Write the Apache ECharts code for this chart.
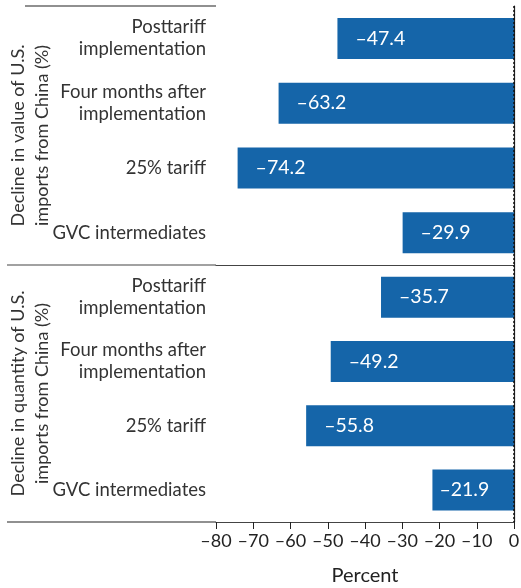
<!DOCTYPE html>
<html>
<head>
<meta charset="utf-8">
<script src="https://cdn.jsdelivr.net/npm/echarts@6/dist/echarts.min.js"></script>
<style>
  html, body { margin: 0; padding: 0; background: #fff; }
  #chart { width: 521px; height: 588px; }
</style>
</head>
<body>
<div id="chart"></div>
<script>
// categories, top to bottom
const categories = ['Posttariff\nimplementation', 'Four months after\nimplementation', '25% tariff', 'GVC intermediates']
const valueDecline = [-47.4, -63.2, -74.2, -29.9]
const quantityDecline = [-35.7, -49.2, -55.8, -21.9]
const xTicks = [-80, 0, 10] // min, max, step
const panelTitles = ['Decline in value of U.S.\nimports from China (%)', 'Decline in quantity of U.S.\nimports from China (%)']

const FONT = 'Lato'
const BLUE = '#1565a9'
const dash = v => String(v).replace('-', '\u2013')

const chart = echarts.init(document.getElementById('chart'))

function yAxis(idx, title) {
    return {
        type: 'category', gridIndex: idx, data: categories, inverse: true,
        axisLine: { lineStyle: { color: '#222', width: 1.2 } },
        axisTick: { length: 7, lineStyle: { color: '#222' } },
        axisLabel: { color: '#333', fontFamily: FONT, fontSize: 18.5, lineHeight: 22, margin: 10 },
        name: title, nameLocation: 'middle', nameRotate: 90, nameGap: 162, nameMoveOverlap: false,
        nameTextStyle: { color: '#333', fontFamily: FONT, fontSize: 18, lineHeight: 24, align: 'center' }
    }
}

function xAxis(idx, bottom) {
    return {
        type: 'value', gridIndex: idx, min: xTicks[0], max: xTicks[1], interval: xTicks[2],
        splitLine: { show: false },
        axisLine: { show: true, onZero: false, lineStyle: { color: '#444', width: 1.2 } },
        axisTick: { show: bottom, length: 7, lineStyle: { color: '#222' } },
        axisLabel: { show: bottom, color: '#222', fontFamily: FONT, fontSize: 18, margin: 10, formatter: dash },
        name: bottom ? 'Percent' : '', nameLocation: 'middle', nameGap: 44, nameMoveOverlap: false,
        nameTextStyle: { color: '#222', fontFamily: FONT, fontSize: 20 }
    }
}

function series(idx, values) {
    return {
        type: 'bar', xAxisIndex: idx, yAxisIndex: idx, barWidth: 41,
        itemStyle: { color: BLUE },
        data: values.map(v => v > -25
            ? { value: v, label: { distance: 7 } }
            : v),
        label: {
            show: true, position: 'insideLeft', distance: 18, color: '#fff',
            fontFamily: FONT, fontSize: 19.5, formatter: p => dash(p.value)
        },
        markLine: {
            silent: true, symbol: 'none', label: { show: false },
            lineStyle: { type: [2, 2], color: '#111', width: 1.5 },
            data: [{ xAxis: 0 }]
        }
    }
}

chart.setOption({
    animation: false,
    grid: [
        { left: 216, right: 7, top: 6, height: 259, outerBoundsMode: 'none' },
        { left: 216, right: 7, top: 265, height: 257, outerBoundsMode: 'none' }
    ],
    xAxis: [xAxis(0, false), xAxis(1, true)],
    yAxis: [yAxis(0, panelTitles[0]), yAxis(1, panelTitles[1])],
    series: [series(0, valueDecline), series(1, quantityDecline)],
    graphic: [
        { type: 'line', shape: { x1: 25, y1: 6, x2: 216, y2: 6 }, style: { stroke: '#222', lineWidth: 1.2 } },
        { type: 'line', shape: { x1: 7, y1: 265, x2: 216, y2: 265 }, style: { stroke: '#444', lineWidth: 1.2 } },
        { type: 'line', shape: { x1: 7, y1: 522, x2: 216, y2: 522 }, style: { stroke: '#222', lineWidth: 1.2 } }
    ]
})
</script>
</body>
</html>
